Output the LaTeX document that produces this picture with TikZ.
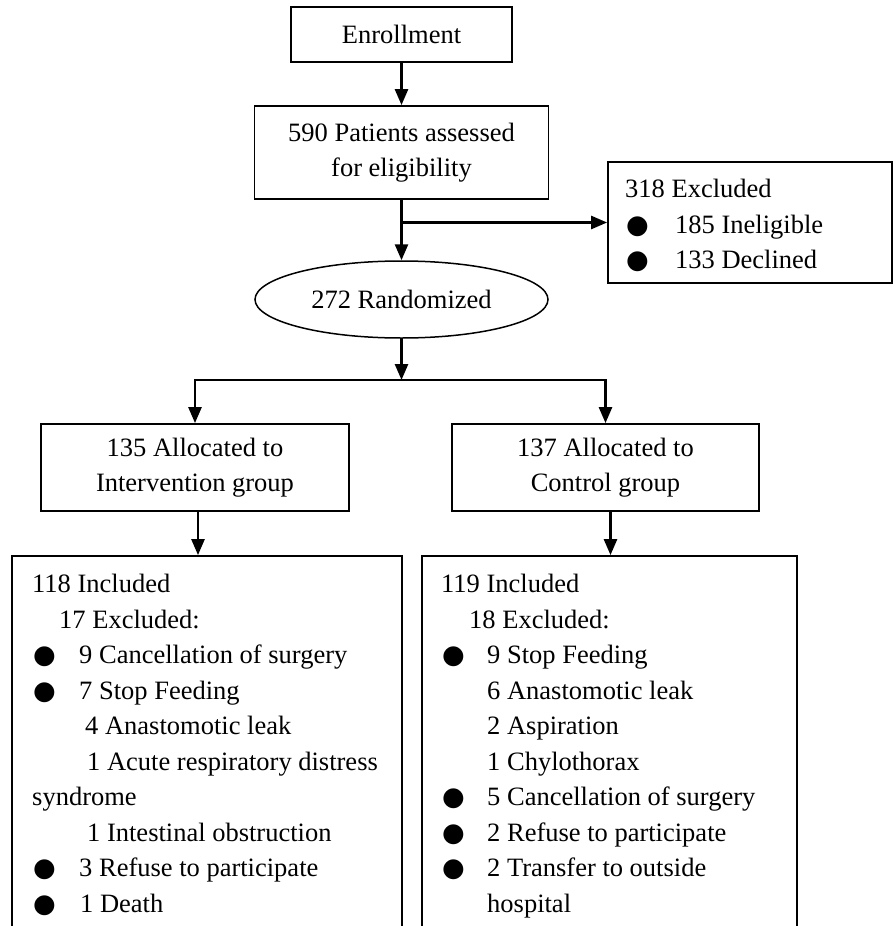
\documentclass[tikz,border=0pt]{standalone}
\usepackage{fontspec}
\setmainfont{Liberation Serif}
\newfontfamily\bulfont{DejaVu Sans}
\usetikzlibrary{arrows.meta,shapes.geometric}
\newcommand{\bul}{{\bulfont\fontsize{26pt}{26pt}\selectfont ●}}
\newcommand{\bitem}[2]{\makebox[#1][l]{\hspace*{1pt}\bul}#2}
\begin{document}
\begin{tikzpicture}[x=1pt,y=-1pt,
  font=\fontsize{26.5pt}{35.5pt}\selectfont,
  box/.style={draw, line width=1.8pt, rectangle, inner sep=0pt, align=center},
  conn/.style={line width=2.6pt},
  tip/.style={},
  arr/.style={conn, -{Triangle[length=16pt,width=13pt]}},
  txt/.style={anchor=north west, inner sep=0pt, align=left}]
\useasboundingbox (0,0) rectangle (896,926);
\clip (0,0) rectangle (896,926);

\node[box, minimum width=221pt, minimum height=55pt] (enr) at (401.5,34.5) {Enrollment};
\node[box, minimum width=294pt, minimum height=93pt] (elig) at (401.5,152.5) {590 Patients assessed\\for eligibility};
\node[box, minimum width=284pt, minimum height=121pt] (exc) at (750,222.5) {};
\node[txt] (exct) at (625,179) {318 Excluded\\
\bitem{50pt}{185 Ineligible}\\
\bitem{50pt}{133 Declined}};
\node[draw, ellipse, line width=1.5pt, minimum width=293pt, minimum height=77pt, inner sep=0pt] (rand) at (401.5,299.5) {272 Randomized};

\node[box, minimum width=308pt, minimum height=87pt] (a1) at (195,467.5) {135 Allocated to\\Intervention group};
\node[box, minimum width=307pt, minimum height=87pt] (a2) at (605.5,467.5) {137 Allocated to\\Control group};

\node[box, minimum width=390pt, minimum height=404pt] (b1) at (207,758) {};
\node[box, minimum width=375pt, minimum height=404pt] (b2) at (609.5,758) {};

\node[txt] (b1t) at (32,574) {118 Included\\
\hspace*{27pt}17 Excluded:\\
\bitem{47pt}{9 Cancellation of surgery}\\
\bitem{47pt}{7 Stop Feeding}\\
\hspace*{53pt}4 Anastomotic leak\\
\hspace*{55pt}1 Acute respiratory distress\\
syndrome\\
\hspace*{55pt}1 Intestinal obstruction\\
\bitem{47pt}{3 Refuse to participate}\\
\bitem{48pt}{1 Death}};

\node[txt] (b2t) at (441,574) {119 Included\\
\hspace*{28pt}18 Excluded:\\
\bitem{46pt}{9 Stop Feeding}\\
\hspace*{46pt}6 Anastomotic leak\\
\hspace*{46pt}2 Aspiration\\
\hspace*{46pt}1 Chylothorax\\
\bitem{46pt}{5 Cancellation of surgery}\\
\bitem{46pt}{2 Refuse to participate}\\
\bitem{46pt}{2 Transfer to outside}\\
\hspace*{46pt}hospital};

\draw[arr] (enr.south) -- (elig.north);
\draw[arr] (elig.south) -- (rand.north);
\coordinate (br) at (elig.south |- exc.west);
\draw[arr] (br) -- (exc.west);
\coordinate (jn) at (401.5,380);
\draw[arr] (rand.south) -- (jn);
\draw[conn, line join=miter, {Triangle[length=16pt,width=13pt]}-{Triangle[length=16pt,width=13pt]}]
  (a1.north) -- (a1.north |- jn) -- (a2.north |- jn) -- (a2.north);
\draw[arr] ([xshift=3pt]a1.south) -- ([xshift=3pt]a1.south |- b1.north);
\draw[arr] ([xshift=5pt]a2.south) -- ([xshift=5pt]a2.south |- b2.north);
\end{tikzpicture}
\end{document}
